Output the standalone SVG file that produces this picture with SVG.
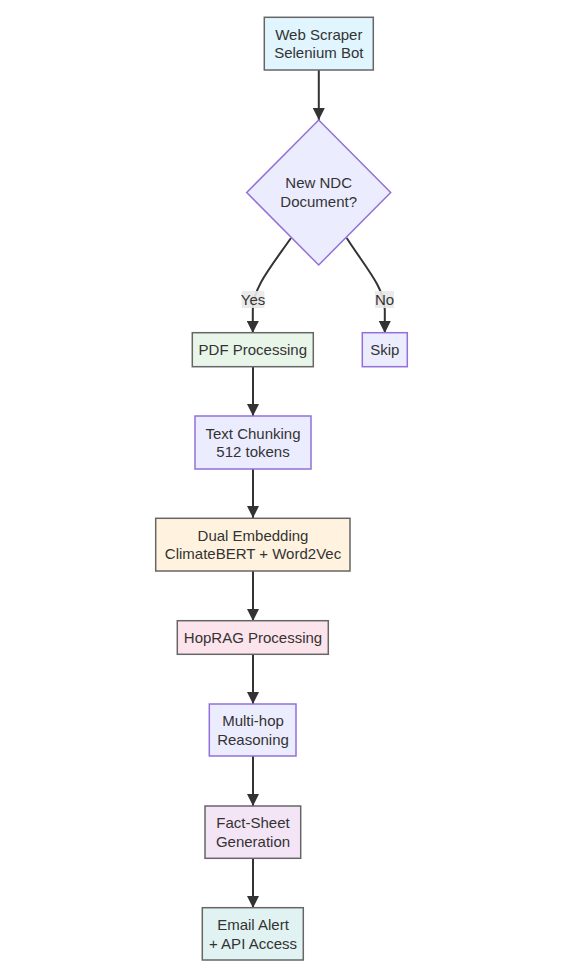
<svg xmlns="http://www.w3.org/2000/svg" width="565" height="980" viewBox="0 0 565 980">
<defs>
<style>
.n rect,.n polygon{stroke-width:1.5}
.def{fill:#ECECFF;stroke:#9370DB}
.sty{stroke:#666}
text{font-family:"Liberation Sans",Arial,sans-serif;font-size:15px;fill:#333;text-anchor:middle}
.e{fill:none;stroke:#333;stroke-width:2}
.lbg{fill:#e8e8e8;opacity:0.9}
</style>
<marker id="ah" viewBox="0 0 12 12" refX="12" refY="6" markerWidth="12" markerHeight="12" markerUnits="userSpaceOnUse" orient="auto">
<path d="M0,0 L12,6 L0,12 z" fill="#333"/>
</marker>
</defs>
<rect width="565" height="980" fill="#fff"/>
<g id="edges">
<path class="e" d="M318.8,70 L318.8,120" marker-end="url(#ah)"/>
<path class="e" d="M291,238 C270,268 252.8,288 252.8,310 L252.8,333" marker-end="url(#ah)"/>
<path class="e" d="M346.7,238 C366,268 384.8,288 384.8,310 L384.8,333" marker-end="url(#ah)"/>
<path class="e" d="M253,367 L253,416" marker-end="url(#ah)"/>
<path class="e" d="M253,469 L253,518" marker-end="url(#ah)"/>
<path class="e" d="M253,571 L253,621" marker-end="url(#ah)"/>
<path class="e" d="M253,655 L253,704" marker-end="url(#ah)"/>
<path class="e" d="M253,756 L253,806" marker-end="url(#ah)"/>
<path class="e" d="M253,858 L253,908" marker-end="url(#ah)"/>
<rect class="lbg" x="241.5" y="291" width="23" height="17"/>
<text x="253" y="304.5">Yes</text>
<rect class="lbg" x="375" y="291" width="19" height="17"/>
<text x="384.5" y="304.5">No</text>
</g>
<g id="webscraper" class="n">
<rect class="sty" x="264.3" y="17.3" width="109" height="52.7" fill="#e1f5fe"/>
<text x="318.8" y="39.5">Web Scraper</text>
<text x="318.8" y="58">Selenium Bot</text>
</g>
<g id="decision" class="n">
<polygon class="def" points="318.7,120 390.7,192.5 318.7,265 246.7,192.5"/>
<text x="318.7" y="188">New NDC</text>
<text x="318.7" y="207">Document?</text>
</g>
<g id="pdf" class="n">
<rect class="sty" x="192.3" y="332.7" width="121" height="34" fill="#e8f5e9"/>
<text x="252.8" y="355">PDF Processing</text>
</g>
<g id="skip" class="n">
<rect class="def" x="362.3" y="332.7" width="45" height="34"/>
<text x="384.8" y="355">Skip</text>
</g>
<g id="chunk" class="n">
<rect class="def" x="195" y="416" width="116" height="53"/>
<text x="253" y="438.5">Text Chunking</text>
<text x="253" y="457">512 tokens</text>
</g>
<g id="embed" class="n">
<rect class="sty" x="155.7" y="518.3" width="194.3" height="52.7" fill="#fff3e0"/>
<text x="253" y="540.5">Dual Embedding</text>
<text x="253" y="559">ClimateBERT + Word2Vec</text>
</g>
<g id="hoprag" class="n">
<rect class="sty" x="177.3" y="620.7" width="151" height="33.6" fill="#fce4ec"/>
<text x="253" y="643">HopRAG Processing</text>
</g>
<g id="multihop" class="n">
<rect class="def" x="209.3" y="704" width="86.7" height="52"/>
<text x="253" y="726">Multi-hop</text>
<text x="253" y="744.5">Reasoning</text>
</g>
<g id="factsheet" class="n">
<rect class="sty" x="205" y="806" width="95.7" height="52.3" fill="#f3e5f5"/>
<text x="253" y="828">Fact-Sheet</text>
<text x="253" y="846.5">Generation</text>
</g>
<g id="email" class="n">
<rect class="sty" x="202.3" y="907.7" width="101" height="52.3" fill="#e0f2f1"/>
<text x="253" y="930">Email Alert</text>
<text x="253" y="948.5">+ API Access</text>
</g>
</svg>
